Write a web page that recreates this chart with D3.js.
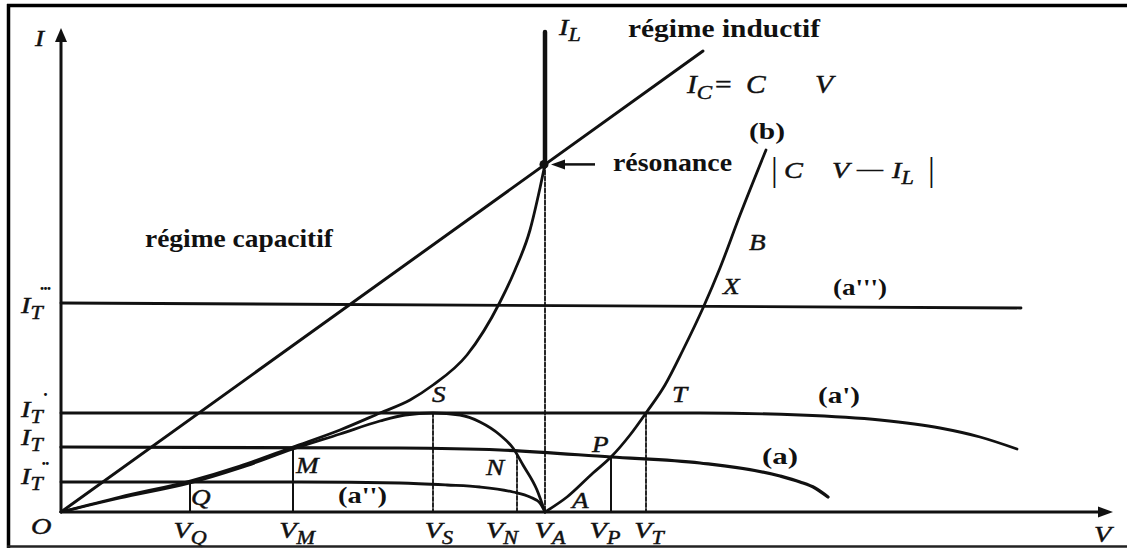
<!DOCTYPE html>
<html>
<head>
<meta charset="utf-8">
<script src="https://cdn.jsdelivr.net/npm/d3@7"></script>
<style>
  html, body { margin: 0; padding: 0; background: #fff; }
  svg { display: block; }
  text { font-family: "Liberation Serif", "Times New Roman", serif; fill: #111; }
</style>
</head>
<body>
<svg id="chart" width="1127" height="548"></svg>
<script>
// ---- Data (arbitrary units: V on the horizontal axis, I on the vertical axis) ----
const vMax = 105.2;
const iMax = 121;

// Current levels of the source characteristics (I_T''', I_T', I_T, I_T'')
const levelPrimes = ["...", ".", "", ".."];
const levelValues = [52.25, 24.75, 16.25, 7.5];

// Voltage marks on the V axis and the height of their projection lines
const voltNames  = ["Q", "M", "S", "N", "A", "P", "T"];
const voltValues = [12.9, 23.2, 37.2, 45.6, 48.4, 55.0, 58.5];
const voltTops   = [7.5, 16.25, 24.75, 14.5, 86.9, 13.75, 24.75];
const voltDashed = [false, false, true, true, true, false, true];

// Resonance point, capacitor line I_C = C V, inductor current I_L
const resonance   = [48.4, 86.9];
const capLine     = [[0, 0], [64.2, 115.25]];
const inductorTop = 120;

// Total current, capacitive regime up to resonance
const curveTotal = [[0,0],[5.9,3.75],[12.9,7.75],[17.9,11.5],[23.2,16.25],[27.9,20.5],[31.9,24.75],
  [34.9,28],[37.2,31.75],[40.6,39.25],[43.9,52.5],[45.4,60.5],[46.9,70.5],[47.9,81],[48.4,86.9]];
// |C V - I_L| below resonance (O, S, N, A)
const curveAbs = [[0,0],[5.9,3.5],[12.9,7.25],[17.9,11],[23.2,15.75],[27.9,19.5],[31.9,22.75],
  [34.4,24.25],[37.2,24.75],[39.9,24.25],[41.9,22.5],[43.9,19.25],[45.2,16],[46.2,11.75],[47.6,5.5],[48.4,0]];
// (b) |C V - I_L| above resonance voltage
const curveB = [[48.4,0],[50.6,3.75],[53.2,9.75],[55,13.75],[56.9,19.25],[58.5,24.75],[60.4,31.75],
  [62.2,40.5],[64.2,51],[65.9,61],[67.9,74.25],[70.5,90.5]];
// Source characteristics (a), (a'), (a''), (a''')
const curveA  = [[0,16.25],[33.9,16],[43.9,15.5],[55,13.75],[63.9,12.25],[71.9,9],[73.9,7.5],[75.4,6],[76.7,3.75]];
const curveA1 = [[0,24.75],[63.9,24.75],[73.9,24.25],[81.9,23],[87.9,21],[91.9,18.75],[95.6,15.75]];
const curveA2 = [[0,7.5],[24,7.5],[33.9,7.25],[38.6,6.75],[41.9,6.25],[45.2,5],[46.9,3.75],[47.9,2.25],[48.4,0]];
const curveA3 = [[0,52.25],[96,51]];

// ---- Drawing ----
const svg = d3.select("#chart");
const x = d3.scaleLinear().domain([0, vMax]).range([61, 1113]);
const y = d3.scaleLinear().domain([0, iMax]).range([512, 28]);
const ink = "#111";

const smooth = d3.line().x(d => x(d[0])).y(d => y(d[1])).curve(d3.curveMonotoneX);
const straight = d3.line().x(d => x(d[0])).y(d => y(d[1]));

function path(data, gen, w, dash) {
  svg.append("path").attr("d", gen(data))
    .attr("fill", "none").attr("stroke", ink).attr("stroke-width", w)
    .attr("stroke-linejoin", "round").attr("stroke-linecap", "round")
    .attr("stroke-dasharray", dash || null);
}

// source characteristics
path(curveA3, straight, 2.8);
path(curveA1, smooth, 2.8);
path(curveA, smooth, 3.2);
path(curveA2, smooth, 2.8);

// projection lines onto the V axis
voltValues.forEach((v, i) => {
  path([[v, voltTops[i]], [v, 0]], straight, voltDashed[i] ? 1.8 : 2, voltDashed[i] ? "4,2" : null);
});

// curves
path(curveTotal, smooth, 2.8);
path(curveAbs, smooth, 2.8);
path(curveB, smooth, 2.8);
path(capLine, straight, 3);
path([resonance, [resonance[0], inductorTop]], straight, 4.5);

// axes with arrow heads
const [x0, x1] = x.range();
const [y0, y1] = y.range();
svg.append("line").attr("x1", x0).attr("y1", y0).attr("x2", x1 - 10).attr("y2", y0)
  .attr("stroke", ink).attr("stroke-width", 3);
svg.append("line").attr("x1", x0).attr("y1", y0 + 1).attr("x2", x0).attr("y2", y1 + 10)
  .attr("stroke", ink).attr("stroke-width", 3);
svg.append("path").attr("d", `M${x1},${y0} L${x1 - 15},${y0 - 5.5} L${x1 - 15},${y0 + 5.5} Z`).attr("fill", ink);
svg.append("path").attr("d", `M${x0},${y1} L${x0 - 6},${y1 + 14} L${x0 + 6},${y1 + 14} Z`).attr("fill", ink);

// resonance point and pointer
const rx = x(resonance[0]), ry = y(resonance[1]);
svg.append("circle").attr("cx", rx - 1).attr("cy", ry).attr("r", 4.5).attr("fill", ink);
svg.append("line").attr("x1", rx + 50).attr("y1", ry).attr("x2", rx + 18).attr("y2", ry)
  .attr("stroke", ink).attr("stroke-width", 2.5);
svg.append("path").attr("d", `M${rx + 6},${ry} L${rx + 20},${ry - 5} L${rx + 20},${ry + 5} Z`).attr("fill", ink);

// ---- Text ----
const SX = 1.18;
function label(px, py, parts, opts = {}) {
  const size = opts.size || 24;
  const t = svg.append("text")
    .attr("transform", `translate(${px},${py}) scale(${opts.sx || SX},1)`)
    .attr("text-anchor", opts.anchor || "start")
    .attr("font-size", size)
    .attr("stroke", ink).attr("stroke-width", 0.45);
  let shift = 0;
  parts.forEach(([s, kind]) => {
    const ts = t.append("tspan").text(s);
    const sub = kind.includes("s");
    const wantShift = sub ? 6 : 0;
    if (wantShift !== shift) { ts.attr("dy", wantShift - shift); shift = wantShift; }
    if (sub) ts.attr("font-size", size * 0.78);
    if (kind.includes("i")) ts.attr("font-style", "italic");
    if (kind.includes("b")) ts.attr("font-weight", "bold");
  });
  return t;
}
function words(px, py, s, width, opts = {}) {
  return svg.append("text").attr("x", px).attr("y", py)
    .attr("font-size", opts.size || 25).attr("font-weight", opts.weight || "bold")
    .attr("textLength", width).attr("lengthAdjust", "spacingAndGlyphs").text(s);
}

// axis names and origin
label(35, 46, [["I", "i"]], { size: 23 });
label(1094, 542, [["V", "i"]], { size: 24 });
label(31, 534, [["O", "i"]], { size: 24 });

// current levels on the I axis
const levelDy = [10, 4, -2, 2];
const dotDy = [-13, -17, 0, -17];
levelValues.forEach((v, i) => {
  label(21, y(v) + levelDy[i], [["I", "i"], ["T", "is"]]);
  if (levelPrimes[i]) {
    svg.append("text").attr("x", 45).attr("y", y(v) + dotDy[i])
      .attr("text-anchor", "middle").attr("font-size", 18).attr("font-weight", "bold")
      .attr("letter-spacing", -1).text(levelPrimes[i]);
  }
});

// voltage marks on the V axis
const voltNudge = [0, 4, 6, -15, 5, -6, 3];
voltValues.forEach((v, i) => {
  label(x(v) + voltNudge[i], 538, [["V", "i"], [voltNames[i], "is"]], { anchor: "middle" });
});

// named points
[["T", 672, 402], ["S", 432, 402], ["P", 592, 452], ["N", 486, 475], ["A", 572, 508],
 ["M", 296, 473], ["Q", 191, 505], ["B", 749, 250], ["X", 723, 294]]
  .forEach(([s, px, py]) => label(px, py, [[s, "i"]], { size: 23 }));

// curve names
words(749, 139, "(b)", 36, { size: 23 });
words(833, 295, "(a''')", 54, { size: 23 });
words(818, 403, "(a')", 42, { size: 23 });
words(762, 464, "(a)", 36, { size: 23 });
words(338, 503, "(a'')", 49, { size: 23 });

// current labels
label(559, 35, [["I", "i"], ["L", "is"]], { size: 24 });
label(687, 93, [["I", "i"], ["C", "is"]], { size: 25 });
label(715, 93, [["=", ""]], { size: 25 });
label(746, 93, [["C", "i"]], { size: 25 });
label(815, 93, [["V", "i"]], { size: 25 });

svg.append("text").attr("x", 771).attr("y", 181).attr("font-size", 34).text("|");
label(784, 178, [["C", "i"]], { size: 24 });
label(832, 178, [["V", "i"]], { size: 24 });
label(857, 176, [["—", ""]], { size: 22 });
label(892, 178, [["I", "i"], ["L", "is"]], { size: 24 });
svg.append("text").attr("x", 928).attr("y", 181).attr("font-size", 34).text("|");

// regimes
words(628, 37, "régime inductif", 192);
words(613, 171, "résonance", 119);
words(145, 247, "régime capacitif", 188);

// frame
svg.append("line").attr("x1", 7).attr("y1", 5.5).attr("x2", 1127).attr("y2", 5.5).attr("stroke", "#000").attr("stroke-width", 3.5);
svg.append("line").attr("x1", 8.5).attr("y1", 4).attr("x2", 8.5).attr("y2", 548).attr("stroke", "#000").attr("stroke-width", 3.5);
svg.append("line").attr("x1", 7).attr("y1", 546.5).attr("x2", 1127).attr("y2", 546.5).attr("stroke", "#222").attr("stroke-width", 2.5);
</script>
</body>
</html>
